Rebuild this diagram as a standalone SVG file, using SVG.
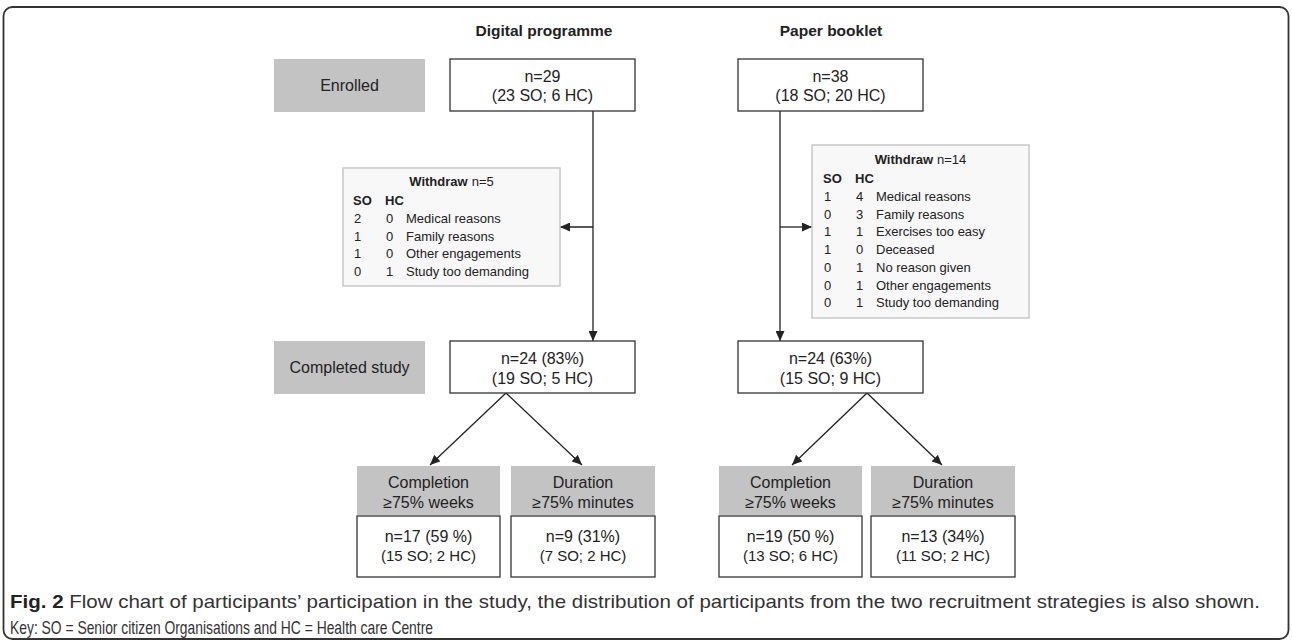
<svg xmlns="http://www.w3.org/2000/svg" width="1292" height="641" viewBox="0 0 1292 641">
<style>
  text { font-family: "Liberation Sans", Arial, sans-serif; fill: #222; }
  .hdr { font-size: 15.5px; font-weight: bold; text-anchor: middle; }
  .lbl { font-size: 16px; text-anchor: middle; }
  .sm { font-size: 15px; text-anchor: middle; }
  .wd { font-size: 13px; }
  .b { font-weight: bold; }
  .gray { fill: #c3c3c3; stroke: none; }
  .box { fill: #ffffff; stroke: #333; stroke-width: 1.3; }
  .wbox { fill: #f8f8f8; stroke: #c8c8c8; stroke-width: 1.5; }
  .con { stroke: #222; stroke-width: 1.3; fill: none; marker-end: url(#arr); }
  .cap { font-size: 19px; fill: #333; }
</style>
<defs>
  <marker id="arr" markerUnits="userSpaceOnUse" markerWidth="11" markerHeight="9" refX="10" refY="4.5" orient="auto">
    <path d="M0,0 L10,4.5 L0,9 z" fill="#222"/>
  </marker>
</defs>

<rect x="3.5" y="7" width="1285" height="632" rx="9" fill="none" stroke="#333" stroke-width="1.8"/>

<g id="headers">
  <text class="hdr" x="544" y="36">Digital programme</text>
  <text class="hdr" x="831" y="36">Paper booklet</text>
</g>

<g id="connectors">
  <line class="con" x1="593" y1="111" x2="593" y2="341"/>
  <line class="con" x1="593" y1="227" x2="560" y2="227"/>
  <line class="con" x1="780" y1="111" x2="780" y2="341"/>
  <line class="con" x1="780" y1="227" x2="812" y2="227"/>
  <line class="con" x1="506" y1="393" x2="430" y2="465"/>
  <line class="con" x1="506" y1="393" x2="582" y2="465"/>
  <line class="con" x1="867" y1="393" x2="792" y2="465"/>
  <line class="con" x1="867" y1="393" x2="942" y2="465"/>
</g>

<g id="enrolled-label">
  <rect class="gray" x="274" y="59" width="151" height="53"/>
  <text class="lbl" x="349.5" y="91">Enrolled</text>
</g>
<g id="digital-enrolled">
  <rect class="box" x="450" y="59" width="185" height="52"/>
  <text class="lbl" x="542.5" y="82">n=29</text>
  <text class="lbl" x="542.5" y="101">(23 SO; 6 HC)</text>
</g>
<g id="paper-enrolled">
  <rect class="box" x="738" y="59" width="185" height="52"/>
  <text class="lbl" x="830.5" y="82">n=38</text>
  <text class="lbl" x="830.5" y="101">(18 SO; 20 HC)</text>
</g>

<g id="digital-withdraw">
  <rect class="wbox" x="343" y="168" width="217" height="118"/>
  <text class="wd" x="451.5" y="186" text-anchor="middle"><tspan class="b">Withdraw</tspan><tspan dx="4">n=5</tspan></text>
  <text class="wd b" x="353" y="204.5">SO</text>
  <text class="wd b" x="385" y="204.5">HC</text>
  <text class="wd" x="354" y="223">2</text><text class="wd" x="386" y="223">0</text><text class="wd" x="406" y="223">Medical reasons</text>
  <text class="wd" x="354" y="240.7">1</text><text class="wd" x="386" y="240.7">0</text><text class="wd" x="406" y="240.7">Family reasons</text>
  <text class="wd" x="354" y="258.4">1</text><text class="wd" x="386" y="258.4">0</text><text class="wd" x="406" y="258.4">Other engagements</text>
  <text class="wd" x="354" y="276.1">0</text><text class="wd" x="386" y="276.1">1</text><text class="wd" x="406" y="276.1">Study too demanding</text>
</g>

<g id="paper-withdraw">
  <rect class="wbox" x="812" y="145" width="217" height="173"/>
  <text class="wd" x="920.5" y="164" text-anchor="middle"><tspan class="b">Withdraw</tspan><tspan dx="4">n=14</tspan></text>
  <text class="wd b" x="823" y="182.5">SO</text>
  <text class="wd b" x="855" y="182.5">HC</text>
  <text class="wd" x="824" y="201">1</text><text class="wd" x="856" y="201">4</text><text class="wd" x="876" y="201">Medical reasons</text>
  <text class="wd" x="824" y="218.7">0</text><text class="wd" x="856" y="218.7">3</text><text class="wd" x="876" y="218.7">Family reasons</text>
  <text class="wd" x="824" y="236.4">1</text><text class="wd" x="856" y="236.4">1</text><text class="wd" x="876" y="236.4">Exercises too easy</text>
  <text class="wd" x="824" y="254.1">1</text><text class="wd" x="856" y="254.1">0</text><text class="wd" x="876" y="254.1">Deceased</text>
  <text class="wd" x="824" y="271.8">0</text><text class="wd" x="856" y="271.8">1</text><text class="wd" x="876" y="271.8">No reason given</text>
  <text class="wd" x="824" y="289.5">0</text><text class="wd" x="856" y="289.5">1</text><text class="wd" x="876" y="289.5">Other engagements</text>
  <text class="wd" x="824" y="307.2">0</text><text class="wd" x="856" y="307.2">1</text><text class="wd" x="876" y="307.2">Study too demanding</text>
</g>

<g id="completed-label">
  <rect class="gray" x="274" y="341" width="151" height="53"/>
  <text class="lbl" x="349.5" y="373">Completed study</text>
</g>
<g id="digital-completed">
  <rect class="box" x="450" y="341" width="185" height="52"/>
  <text class="lbl" x="542.5" y="364">n=24 (83%)</text>
  <text class="lbl" x="542.5" y="384">(19 SO; 5 HC)</text>
</g>
<g id="paper-completed">
  <rect class="box" x="738" y="341" width="185" height="52"/>
  <text class="lbl" x="830.5" y="364">n=24 (63%)</text>
  <text class="lbl" x="830.5" y="384">(15 SO; 9 HC)</text>
</g>

<g id="digital-completion">
  <rect class="gray" x="357" y="466" width="143" height="49"/>
  <text class="lbl" x="428.5" y="488">Completion</text>
  <text class="lbl" x="428.5" y="508">≥75% weeks</text>
  <rect class="box" x="357" y="516" width="143" height="61"/>
  <text class="lbl" x="428.5" y="541.5">n=17 (59 %)</text>
  <text class="sm" x="428.5" y="561">(15 SO; 2 HC)</text>
</g>
<g id="digital-duration">
  <rect class="gray" x="511" y="466" width="144" height="49"/>
  <text class="lbl" x="583" y="488">Duration</text>
  <text class="lbl" x="583" y="508">≥75% minutes</text>
  <rect class="box" x="511" y="516" width="144" height="61"/>
  <text class="lbl" x="583" y="541.5">n=9 (31%)</text>
  <text class="sm" x="583" y="561">(7 SO; 2 HC)</text>
</g>
<g id="paper-completion">
  <rect class="gray" x="719" y="466" width="143" height="49"/>
  <text class="lbl" x="790.5" y="488">Completion</text>
  <text class="lbl" x="790.5" y="508">≥75% weeks</text>
  <rect class="box" x="719" y="516" width="143" height="61"/>
  <text class="lbl" x="790.5" y="541.5">n=19 (50 %)</text>
  <text class="sm" x="790.5" y="561">(13 SO; 6 HC)</text>
</g>
<g id="paper-duration">
  <rect class="gray" x="871" y="466" width="144" height="49"/>
  <text class="lbl" x="943" y="488">Duration</text>
  <text class="lbl" x="943" y="508">≥75% minutes</text>
  <rect class="box" x="871" y="516" width="144" height="61"/>
  <text class="lbl" x="943" y="541.5">n=13 (34%)</text>
  <text class="sm" x="943" y="561">(11 SO; 2 HC)</text>
</g>

<g id="caption">
  <text class="cap" x="10" y="608" textLength="1250" lengthAdjust="spacingAndGlyphs"><tspan font-weight="bold" fill="#222">Fig. 2</tspan> Flow chart of participants’ participation in the study, the distribution of participants from the two recruitment strategies is also shown.</text>
  <text class="cap" x="10" y="634" textLength="423" lengthAdjust="spacingAndGlyphs">Key: SO = Senior citizen Organisations and HC = Health care Centre</text>
</g>
</svg>
